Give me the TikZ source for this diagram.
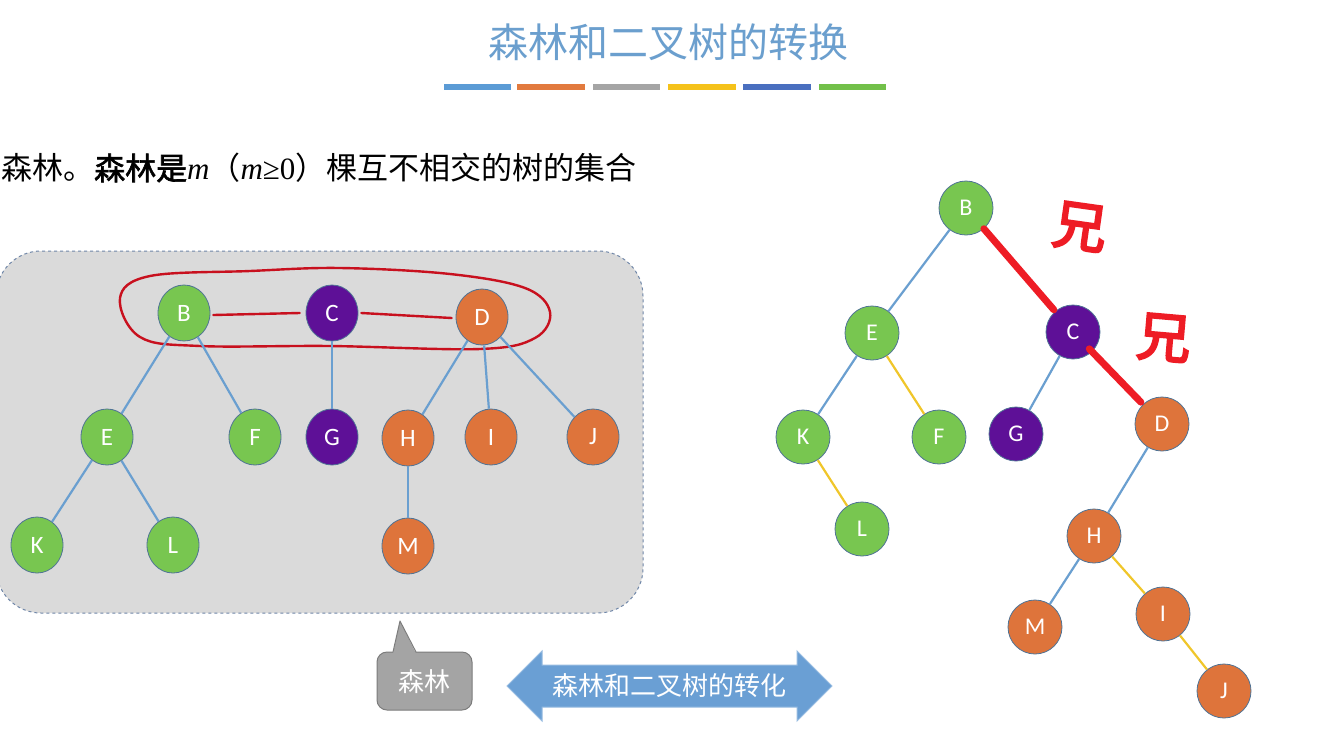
\documentclass[tikz,border=0pt]{standalone}
\usepackage{fontspec}
\setmainfont{Liberation Serif}
\newfontfamily\cjk{Noto Sans CJK SC}
\newfontfamily\cjkbold{Noto Sans CJK SC}[FakeBold=2]
\newfontfamily\cjkhand{Noto Sans CJK SC}[FakeBold=4]
\newfontfamily\nodefont{Carlito}
\usetikzlibrary{shapes.geometric}
\definecolor{titleblue}{HTML}{6B9FCE}
\definecolor{barblue}{HTML}{5B9BD5}
\definecolor{barorange}{HTML}{E27A3E}
\definecolor{bargray}{HTML}{A5A5A5}
\definecolor{baryellow}{HTML}{F5C21A}
\definecolor{bardark}{HTML}{4A6FBF}
\definecolor{bargreen}{HTML}{72C04A}
\definecolor{ngreen}{HTML}{78C650}
\definecolor{npurple}{HTML}{5E1097}
\definecolor{norange}{HTML}{DE743B}
\definecolor{nborder}{HTML}{4F7395}
\definecolor{edgeblue}{HTML}{6A9FD0}
\definecolor{edgeyellow}{HTML}{F0C62A}
\definecolor{boxgray}{HTML}{DADADA}
\definecolor{boxborder}{HTML}{6F86A8}
\definecolor{penred}{HTML}{C8101E}
\definecolor{inkred}{HTML}{EE1C25}
\definecolor{bubblegray}{HTML}{A4A4A4}
\definecolor{bubbleborder}{HTML}{7C7C7C}
\definecolor{arrowblue}{HTML}{6A9FD4}
\tikzset{
  tn/.style={ellipse, minimum width=52, minimum height=56, inner sep=0pt,
    draw=nborder, line width=0.8pt, text=white,
    font=\nodefont\fontsize{25}{25}\selectfont},
  rn/.style={circle, minimum size=54, inner sep=0pt,
    draw=nborder, line width=0.8pt, text=white,
    font=\nodefont\fontsize{24}{24}\selectfont},
  gr/.style={fill=ngreen},
  pu/.style={fill=npurple},
  orn/.style={fill=norange},
  be/.style={draw=edgeblue, line width=2.2pt},
  ye/.style={draw=edgeyellow, line width=2.2pt},
  redink/.style={draw=inkred, line width=7pt, line cap=round},
  redpen/.style={draw=penred, line width=2.4pt, line cap=round},
  bar/.style={line width=6pt},
  hand/.style={text=inkred, font=\cjkhand\fontsize{54}{54}\selectfont, inner sep=0pt}
}
\begin{document}
\begin{tikzpicture}[x=1pt,y=-1pt]
\useasboundingbox (0,0) rectangle (1341,732);
\fill[white] (0,0) rectangle (1341,732);

% title
\node[text=titleblue, font=\cjk\fontsize{40}{40}\selectfont, inner sep=0pt] (title) at (668,42) {森林和二叉树的转换};
\draw[bar, barblue]   (444,87) -- (511,87);
\draw[bar, barorange] (517,87) -- (585,87);
\draw[bar, bargray]   (593,87) -- (660,87);
\draw[bar, baryellow] (668,87) -- (736,87);
\draw[bar, bardark]   (743,87) -- (811,87);
\draw[bar, bargreen]  (819,87) -- (886,87);

% definition line
\node[anchor=west, inner sep=0pt, font=\fontsize{31}{31}\selectfont] (def) at (1,168)
  {{\cjk 森林。}{\cjkbold 森林是}\textit{m}{\cjk （}\textit{m}≥0{\cjk ）棵互不相交的树的集合}};

% forest box
\draw[fill=boxgray, draw=boxborder, dashed, line width=1pt, rounded corners=45]
  (-4,251) rectangle (643,613);

% red loop around roots
\draw[redpen] plot[smooth cycle, tension=0.6] coordinates {
  (120,298) (150,276) (250,271) (340,268) (450,274) (525,288) (550,312)
  (535,338) (480,349) (330,346) (200,346) (140,337)};

% left forest nodes
\node[tn,gr]  (lB) at (184,313) {B};
\node[tn,pu]  (lC) at (332,313) {C};
\node[tn,orn] (lD) at (482,317) {D};
\node[tn,gr]  (lE) at (107,437) {E};
\node[tn,gr]  (lF) at (255,437) {F};
\node[tn,pu]  (lG) at (332,437) {G};
\node[tn,orn] (lH) at (408,438) {H};
\node[tn,orn] (lI) at (491,437) {I};
\node[tn,orn] (lJ) at (593,437) {J};
\node[tn,gr]  (lK) at (37,545) {K};
\node[tn,gr]  (lL) at (173,545) {L};
\node[tn,orn] (lM) at (408,546) {M};

\draw[be] (lB) -- (lE);
\draw[be] (lB) -- (lF);
\draw[be] (lC) -- (lG);
\draw[be] (lD) -- (lH);
\draw[be] (lD) -- (lI);
\draw[be] (lD) -- (lJ);
\draw[be] (lE) -- (lK);
\draw[be] (lE) -- (lL);
\draw[be] (lH) -- (lM);

\draw[redpen] ([xshift=3pt,yshift=-2pt]lB.east) -- ([xshift=-6pt]lC.west);
\draw[redpen] ([xshift=3pt]lC.east) -- ([xshift=-4pt,yshift=-1pt]lD.west);

% right binary tree
\node[rn,gr]  (rB) at (966,208) {B};
\node[rn,gr]  (rE) at (872,333) {E};
\node[rn,pu]  (rC) at (1073,332) {C};
\node[rn,gr]  (rK) at (803,437) {K};
\node[rn,gr]  (rF) at (939,437) {F};
\node[rn,pu]  (rG) at (1016,434) {G};
\node[rn,orn] (rD) at (1162,424) {D};
\node[rn,gr]  (rL) at (862,529) {L};
\node[rn,orn] (rH) at (1094,536) {H};
\node[rn,orn] (rM) at (1035,627) {M};
\node[rn,orn] (rI) at (1163,614) {I};
\node[rn,orn] (rJ) at (1224,691) {J};

\draw[be] (rB) -- (rE);
\draw[be] (rE) -- (rK);
\draw[ye] (rE) -- (rF);
\draw[ye] (rK) -- (rL);
\draw[be] (rC) -- (rG);
\draw[be] (rD) -- (rH);
\draw[be] (rH) -- (rM);
\draw[ye] (rH) -- (rI);
\draw[ye] (rI) -- (rJ);

\draw[redink, shorten >=2pt] (rB) -- (rC);
\draw[redink, shorten <=-4pt, shorten >=3pt] (rC) -- (rD);
\node[hand, rotate=-8] (x1) at (1080,227) {兄};
\node[hand, rotate=-5] (x2) at (1164,338) {兄};

% speech bubble
\draw[fill=bubblegray, draw=bubbleborder, line width=1pt, rounded corners=10]
  (377,652) rectangle (472,710);
\fill[bubblegray] (393,653.5) -- (400,621) -- (416,653.5) -- cycle;
\draw[bubbleborder, line width=1pt, line join=round] (393,652) -- (400,621) -- (416,652);
\node[text=white, font=\cjk\fontsize{26}{26}\selectfont, inner sep=0pt] (forest) at (424,682) {森林};

% double arrow
\draw[fill=arrowblue, draw=arrowblue!70!white, line width=1pt]
  (507,686) -- (542,651) -- (542,665) -- (797,665) -- (797,651) -- (832,686)
  -- (797,721) -- (797,707) -- (542,707) -- (542,721) -- cycle;
\node[text=white, font=\cjk\fontsize{26}{26}\selectfont, inner sep=0pt] (conv) at (669,686) {森林和二叉树的转化};
\end{tikzpicture}
\end{document}
